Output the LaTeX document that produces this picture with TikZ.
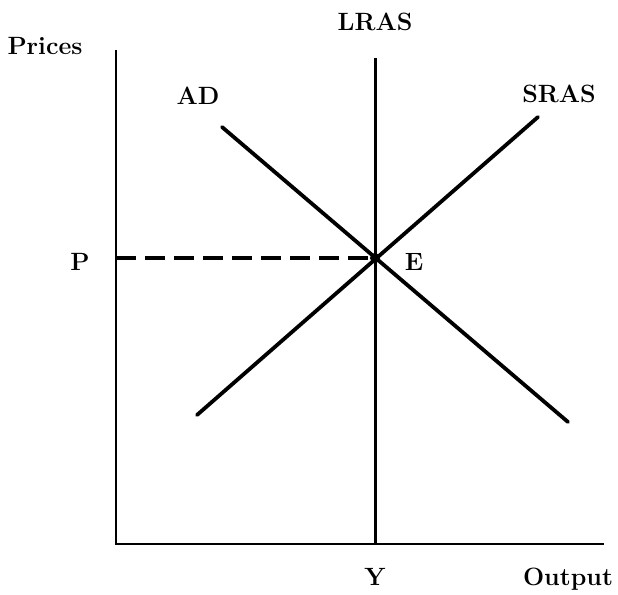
\documentclass[tikz,border=0pt]{standalone}
\usepackage{tikz}
\usetikzlibrary{positioning}

\begin{document}
\begin{tikzpicture}[x=1pt,y=-1pt,
    lbl/.style={font=\fontsize{25}{29}\selectfont\bfseries},
    axis/.style={line width=2.8pt},
    curve/.style={line width=3.8pt,line cap=round}]
  \useasboundingbox (0,0) rectangle (618,594);
  % axes
  \coordinate (origin) at (116,544);
  \coordinate (ytop) at (116,50);
  \coordinate (xend) at (604,544);
  \draw[axis] (ytop) -- (origin) -- (xend);
  % long-run supply
  \coordinate (lrastop) at (375,58);
  \coordinate (lrasbot) at (375,544);
  \draw[line width=3pt] (lrastop) -- (lrasbot);
  % demand and short-run supply
  \coordinate (adtop) at (222,127);
  \coordinate (adbot) at (568,422);
  \coordinate (srasbot) at (197,415);
  \coordinate (srastop) at (538,117);
  \draw[curve] (adtop) -- (adbot);
  \draw[curve] (srasbot) -- (srastop);
  % equilibrium
  \coordinate (eq) at (375,258);
  \coordinate (pax) at (116,258);
  \draw[line width=3.2pt,dash pattern=on 20pt off 9pt] (pax) -- (eq);
  \fill (eq) circle (5pt);
  % labels
  \node[lbl] (prices) at (45,46) {Prices};
  \node[lbl] (lras) at (375,22) {LRAS};
  \node[lbl] (ad) at (198,96) {AD};
  \node[lbl] (sras) at (559,94) {SRAS};
  \node[lbl] (plbl) at (80,262) {P};
  \node[lbl] (elbl) at (414,262) {E};
  \node[lbl] (ylbl) at (375,577) {Y};
  \node[lbl] (output) at (568,579) {Output};
\end{tikzpicture}
\end{document}
